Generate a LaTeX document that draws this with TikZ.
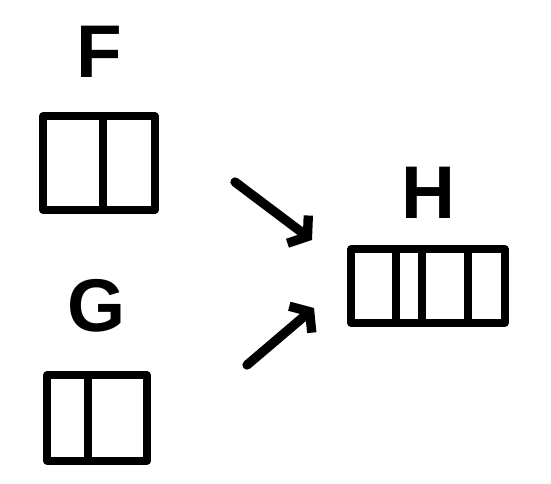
\documentclass[tikz,border=0pt]{standalone}
\usepackage{fontspec}
\setsansfont{Liberation Sans}
\usetikzlibrary{arrows.meta, calc, positioning}

\begin{document}
\begin{tikzpicture}[x=0.75pt, y=-0.75pt,
  line width=6pt, line cap=round, line join=round,
  box/.style={draw, rectangle, inner sep=0pt, outer sep=0pt},
  name label/.style={inner sep=0pt, font=\sffamily\bfseries\fontsize{56}{56}\selectfont},
  push/.style={line width=7pt, -{Straight Barb[length=9pt, width=26pt]}}]
\useasboundingbox (0,0) rectangle (551,484);

% cajas de entrada y de salida
\node[box, minimum width=84pt, minimum height=70pt] (F) at (99,163) {};
\node[box, minimum width=75pt, minimum height=64pt] (G) at (97,418) {};
\node[box, minimum width=115pt, minimum height=55pt] (H) at (428,286) {};

% divisiones internas
\draw ($(F.north west)!0.54!(F.north east)$) -- ($(F.south west)!0.54!(F.south east)$);
\draw ($(G.north west)!0.41!(G.north east)$) -- ($(G.south west)!0.41!(G.south east)$);
\foreach \f in {0.29, 0.46, 0.76}
  \draw ($(H.north west)!\f!(H.north east)$) -- ($(H.south west)!\f!(H.south east)$);

% nombres
\node[name label, above=26pt of F] (F label) {F};
\node[name label, above=29pt of G] (G label) {G};
\node[name label, above=20pt of H] (H label) {H};

% flechas hacia H
\coordinate (F out) at (235,182);
\coordinate (H in top) at (312,240);
\coordinate (G out) at (247,365);
\coordinate (H in low) at (314,308);
\draw[push] (F out) -- (H in top);
\draw[push] (G out) -- (H in low);
\end{tikzpicture}
\end{document}
